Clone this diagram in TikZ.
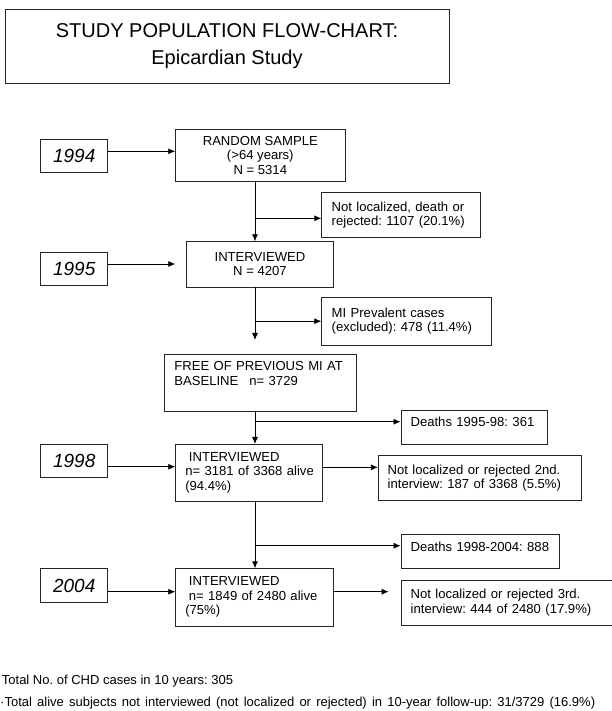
\documentclass[tikz,border=0pt]{standalone}
\usepackage{fontspec}
\setmainfont{Liberation Sans}
\frenchspacing
\usetikzlibrary{arrows.meta}
\tikzstyle{box}=[rectangle,draw=black!85,line width=0.8pt,inner sep=0pt,font=\fontsize{13.1}{14.5}\selectfont]
\tikzstyle{midbox}=[box,align=center]
\tikzstyle{leftbox}=[box,align=left,inner xsep=10pt]
\tikzstyle{year}=[box,font=\fontsize{19}{22}\selectfont\itshape,minimum width=67pt,minimum height=33.4pt]
\tikzstyle{link}=[->,line width=0.8pt]
\tikzstyle{note}=[anchor=west,inner sep=0pt,font=\fontsize{13}{14.5}\selectfont]

\begin{document}
\begin{tikzpicture}[x=1pt,y=-1pt,>={Latex[length=7pt,width=6pt]}]
        \useasboundingbox (0,0) rectangle (612,711);

        \node at (227,46) [midbox,font=\fontsize{20}{27}\selectfont,minimum width=444pt,minimum height=74pt] (title) {STUDY POPULATION FLOW-CHART:\\Epicardian Study};

        \node at (74.2,156)   [year] (y94) {1994};
        \node at (74.2,269)   [year] (y95) {1995};
        \node at (74.2,461)   [year] (y98) {1998};
        \node at (74.2,585.5) [year] (y04) {2004};

        \node at (260.3,155.2) [midbox,minimum width=169.3pt,minimum height=51.7pt] (rs) {RANDOM SAMPLE\\(>64 years)\\N = 5314};
        \node at (260,264.3)   [midbox,minimum width=146.6pt,minimum height=45.3pt] (iv95) {INTERVIEWED\\N = 4207};
        \node at (260.2,382.7) [leftbox,text width=171.7pt,text height=16.3pt,text depth=40.4pt] (free) {FREE OF PREVIOUS MI AT\\BASELINE\hspace{11pt}n= 3729};
        \node at (249,472.7)   [leftbox,inner xsep=9.6pt,text width=127.4pt,minimum height=56.7pt] (iv98) {\hspace*{3.6pt}INTERVIEWED\\\mbox{n= 3181 of 3368 alive}\\(94.4\%)};
        \node at (254.5,597.3) [leftbox,inner xsep=9.6pt,text width=138.4pt,minimum height=57.3pt] (iv04) {\hspace*{3.6pt}INTERVIEWED\\\hspace*{3.6pt}\mbox{n= 1849 of 2480 alive}\\(75\%)};

        \node at (401,215.2)   [leftbox,text width=138.6pt,minimum height=45pt] (nl1) {Not localized, death or\\rejected: 1107 (20.1\%)};
        \node at (406.5,321.2) [leftbox,text width=149.6pt,minimum height=48.3pt] (mi) {MI Prevalent cases\\(excluded): 478 (11.4\%)};
        \node at (474.3,427)   [leftbox,inner xsep=9.6pt,text width=127.5pt,text height=16.6pt,text depth=17.4pt] (d1) {Deaths 1995-98: 361};
        \node at (480,478.2)   [leftbox,inner xsep=9.4pt,text width=184.6pt,minimum height=45pt] (nl2) {Not localized or rejected 2nd.\\interview: 187 of 3368 (5.5\%)};
        \node at (480,551.2)   [leftbox,inner xsep=9.7pt,text width=138.6pt,text height=17pt,text depth=16.7pt] (d2) {Deaths 1998-2004: 888};
        \node at (510.5,602.5) [leftbox,inner xsep=9.7pt,text width=199.6pt,minimum height=45pt] (nl3) {Not localized or rejected 3rd.\\interview: 444 of 2480 (17.9\%)};

        \node at (1.7,680.7) [note] (cases) {Total No. of CHD cases in 10 years: 305};
        \node at (0,703.3)   [note] (alive) {\makebox[595pt][s]{·Total alive subjects not interviewed (not localized or rejected) in 10-year follow-up: 31/3729 (16.9\%)}};

        \coordinate (col) at (255,0);
        \draw [link] (rs.south -| col) -- (iv95.north -| col);
        \draw [link,shorten >=14pt] (iv95.south -| col) -- (free.north -| col);
        \draw [link] (free.south -| col) -- (iv98.north -| col);
        \draw [link] (iv98.south -| col) -- (iv04.north -| col);

        \draw [link] ([yshift=-3.1pt]nl1.west -| col) -- ([yshift=-3.1pt]nl1.west);
        \draw [link] (mi.west -| col) -- (mi.west);
        \draw [link] ([yshift=5.3pt]d1.west -| col) -- ([yshift=5.3pt]d1.west);
        \draw [link] ([yshift=5.5pt]d2.west -| col) -- ([yshift=5.5pt]d2.west);

        \draw [link] ([yshift=4.7pt]y94.east) -- ([yshift=4.7pt]y94.east -| rs.west);
        \draw [link,shorten >=11pt] ([yshift=5pt]y95.east) -- ([yshift=5pt]y95.east -| iv95.west);
        \draw [link] ([yshift=-5.7pt]y98.east) -- ([yshift=-5.7pt]y98.east -| iv98.west);
        \draw [link] ([yshift=-6.2pt]y04.east) -- ([yshift=-6.2pt]y04.east -| iv04.west);

        \draw [link] ([yshift=5.4pt]iv98.east) -- ([yshift=5.4pt]iv98.east -| nl2.west);
        \draw [link,shorten >=12pt] ([yshift=5.6pt]iv04.east) -- ([yshift=5.6pt]iv04.east -| nl3.west);
      \end{tikzpicture}
\end{document}
